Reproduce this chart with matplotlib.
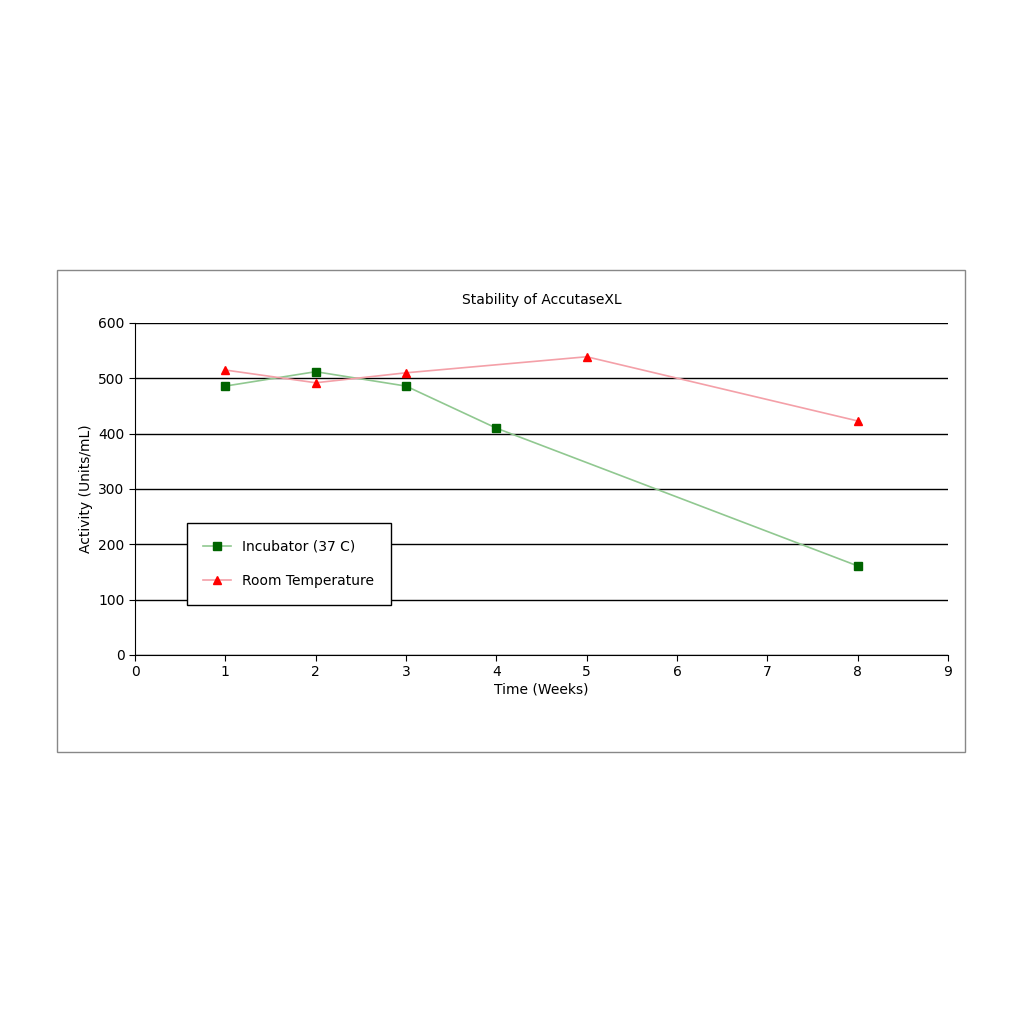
import matplotlib
matplotlib.use("Agg")
import matplotlib.pyplot as plt
from matplotlib.patches import Rectangle

inc_x = [1, 2, 3, 4, 8]
inc_y = [486, 512, 486, 410, 161]
room_x = [1, 2, 3, 5, 8]
room_y = [515, 492, 510, 539, 423]

fig = plt.figure(figsize=(10.24, 10.24), dpi=100)
fig.patches.append(Rectangle((57/1024, 1-752/1024), (965-57)/1024, (752-270)/1024,
                             transform=fig.transFigure, fill=False, edgecolor='#888888', lw=1))
ax = fig.add_axes([135/1024, 1-655/1024, (948-135)/1024, (655-323)/1024])
ax.plot(inc_x, inc_y, color='#90c890', lw=1.2, marker='s', markersize=6,
        markerfacecolor='#006400', markeredgecolor='#006400', label='Incubator (37 C)')
ax.plot(room_x, room_y, color='#f4a0a8', lw=1.2, marker='^', markersize=6,
        markerfacecolor='#ff0000', markeredgecolor='#ff0000', label='Room Temperature')
ax.set_xlim(0, 9)
ax.set_ylim(0, 600)
ax.set_xticks(range(10))
ax.set_yticks(range(0, 601, 100))
ax.grid(axis='y', color='black', lw=1)
ax.set_axisbelow(True)
for s in ['top', 'right']:
    ax.spines[s].set_visible(False)
ax.tick_params(labelsize=10, direction='out', length=4)
ax.set_xlabel('Time (Weeks)', fontsize=10, labelpad=2)
ax.set_ylabel('Activity (Units/mL)', fontsize=10)
ax.set_title('Stability of AccutaseXL', fontsize=10, pad=14)
leg = ax.legend(loc='lower left', bbox_to_anchor=(0.055, 0.13), fontsize=10,
                fancybox=False, edgecolor='black', framealpha=1, borderpad=1.2, labelspacing=1.5)
leg.get_frame().set_linewidth(1)
fig.savefig('out.png', dpi=100)
